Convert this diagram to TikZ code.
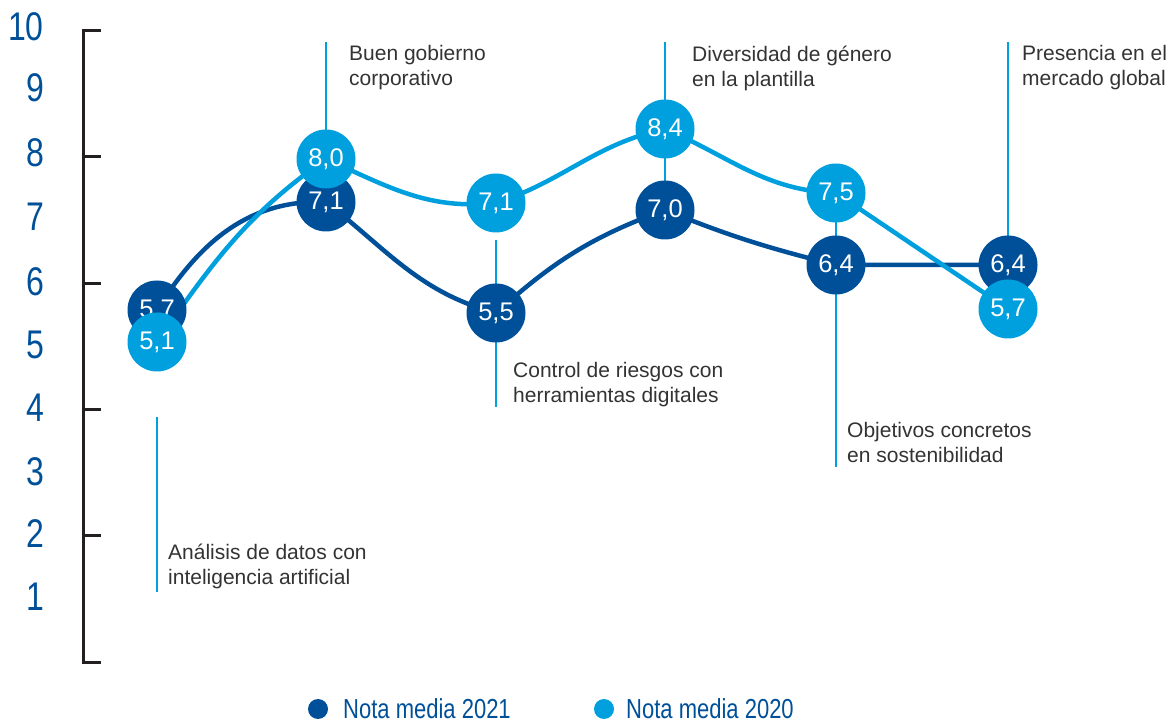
\documentclass[tikz,border=0pt]{standalone}
\usepackage{fontspec}
\setmainfont{Liberation Sans}
\newfontfamily\condfont[FakeStretch=0.8]{Liberation Sans}
\definecolor{azuloscuro}{RGB}{0,80,153}
\definecolor{azulclaro}{RGB}{0,160,222}
\definecolor{grisetiq}{RGB}{51,51,51}
\definecolor{negroeje}{RGB}{35,31,32}
\pgfdeclarelayer{fondo}
\pgfsetlayers{fondo,main}
\begin{document}
\begin{tikzpicture}[x=1pt,y=1pt,
  nota/.style={circle,minimum size=59pt,inner sep=0pt,text=white,font=\fontsize{25.5}{25.5}\selectfont},
  nota21/.style={nota,fill=azuloscuro},
  nota20/.style={nota,fill=azulclaro},
  serie21/.style={azuloscuro,line width=4.5pt},
  serie20/.style={azulclaro,line width=4.5pt},
  guia/.style={azulclaro,line width=1.8pt},
  etiq/.style={anchor=west,inner sep=0pt,align=left,text=grisetiq,font=\fontsize{21}{25}\selectfont},
  escala/.style={anchor=east,inner sep=0pt,text=azuloscuro,font=\condfont\fontsize{40}{40}\selectfont},
  leyenda/.style={anchor=west,inner sep=0pt,text=azuloscuro,font=\condfont\fontsize{27.5}{27.5}\selectfont}]
\useasboundingbox (0,0) rectangle (1174,727);
% eje
\draw[negroeje,line width=3pt] (101,696) -| (83,64) -- (101,64);
\foreach \y in {570,443,317,191}
  \draw[negroeje,line width=3pt] (83,\y) -- (101,\y);
\foreach \v/\y in {10/700,9/639,8/574,7/510,6/445,5/382,4/319,3/255,2/193,1/130}
  \node[escala] (n\v) at (44,\y) {\v};
% notas 2021
\node[nota21] (d1) at (157,417) {5,7};
\node[nota21] (d2) at (326,525) {7,1};
\node[nota21] (d3) at (496,414) {5,5};
\node[nota21] (d4) at (665,517) {7,0};
\node[nota21] (d5) at (836,462) {6,4};
\node[nota21] (d6) at (1008,462) {6,4};
% notas 2020
\node[nota20] (l1) at (157,385) {5,1};
\node[nota20] (l2) at (326,568) {8,0};
\node[nota20] (l3) at (496,524) {7,1};
\node[nota20] (l4) at (665,598) {8,4};
\node[nota20] (l5) at (836,534) {7,5};
\node[nota20] (l6) at (1008,418) {5,7};
% puntos de las guias
\coordinate (g1a) at (157,310);
\coordinate (g1b) at (157,135);
\coordinate (g2) at (326,685);
\coordinate (g3a) at (496,487);
\coordinate (g3b) at (496,320);
\coordinate (g4) at (665,685);
\coordinate (g5) at (836,260);
\coordinate (g6) at (1008,685);
\begin{pgfonlayer}{fondo}
\draw[guia] (g1a) -- (g1b);
\draw[guia] (g2) -- (l2.center);
\draw[guia] (g3a) -- (d3.center) -- (g3b);
\draw[guia] (g4) -- (l4.center) -- (d4.center);
\draw[guia] (l5.center) -- (d5.center) -- (g5);
\draw[guia] (g6) -- (d6.center);
\draw[serie21] (d1.center) to[out=58,in=178] (d2.center)
  to[out=-38,in=165] (d3.center) to[out=42,in=200] (d4.center)
  to[out=-22,in=166] (d5.center) -- (d6.center);
\draw[serie20] (l1.center) to[out=55,in=215] (l2.center)
  to[out=-24,in=186] (l3.center) to[out=18,in=192] (l4.center)
  to[out=-23,in=178] (l5.center) -- (l6.center);
\end{pgfonlayer}
% etiquetas
\node[etiq] (t1) at (168,160.5) {Análisis de datos con\\inteligencia artificial};
\node[etiq] (t2) at (349,659) {Buen gobierno\\corporativo};
\node[etiq] (t3) at (513,342.5) {Control de riesgos con\\herramientas digitales};
\node[etiq] (t4) at (692,659) {Diversidad de género\\en la plantilla};
\node[etiq] (t5) at (847,284.5) {Objetivos concretos\\en sostenibilidad};
\node[etiq] (t6) at (1022,659) {Presencia en el\\mercado global};
% leyenda
\node[circle,fill=azuloscuro,minimum size=20pt,inner sep=0pt] (p21) at (318,18) {};
\node[leyenda] (y21) at (343,18) {Nota media 2021};
\node[circle,fill=azulclaro,minimum size=20pt,inner sep=0pt] (p20) at (604,18) {};
\node[leyenda] (y20) at (626,18) {Nota media 2020};
\end{tikzpicture}
\end{document}
